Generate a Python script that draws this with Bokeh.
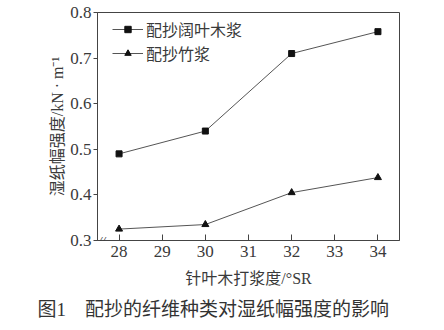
from bokeh.plotting import figure
from bokeh.models import Range1d, FixedTicker, Legend, LegendItem, Label, Title, CustomJSTickFormatter
from bokeh.embed import file_html
from bokeh.resources import INLINE

x_vals = [28, 30, 32, 34]
hardwood = [0.49, 0.54, 0.71, 0.758]
bamboo = [0.325, 0.335, 0.405, 0.438]
series_names = ["配抄阔叶木浆", "配抄竹浆"]
x_ticks = [28, 29, 30, 31, 32, 33, 34]
y_ticks = [0.3, 0.4, 0.5, 0.6, 0.7, 0.8]
x_label = "针叶木打浆度/°SR"
y_label = "湿纸幅强度/kN · m⁻¹"
caption = "图1　配抄的纤维种类对湿纸幅强度的影响"

FONT = "'Liberation Serif', 'Noto Sans CJK SC'"
TXT = "#3a3a3a"
LINE = "#555555"

p = figure(width=444, height=330, output_backend="svg", toolbar_location=None,
           x_range=Range1d(27.5, 34.5), y_range=Range1d(0.3, 0.8),
           min_border_left=97, min_border_right=45, min_border_top=12, min_border_bottom=90)
p.background_fill_color = "white"
p.border_fill_color = "white"
p.grid.visible = False
p.outline_line_color = "#444444"
p.outline_line_width = 1

xa = p.xaxis[0]
xa.ticker = FixedTicker(ticks=x_ticks)
xa.major_tick_in = 6
xa.major_tick_out = 0
xa.minor_tick_line_color = None
xa.major_label_standoff = 5
xa.axis_label = x_label
xa.axis_label_standoff = 10

ya = p.yaxis[0]
ya.ticker = FixedTicker(ticks=y_ticks)
ya.major_tick_in = 0
ya.major_tick_out = 4
ya.minor_tick_line_color = None
ya.major_label_standoff = 2
ya.formatter = CustomJSTickFormatter(code="return tick.toFixed(1);")
ya.axis_label = y_label
ya.axis_label_standoff = 1

for ax in (xa, ya):
    ax.axis_line_color = "#444444"
    ax.major_tick_line_color = "#444444"
    ax.major_label_text_font = FONT
    ax.major_label_text_font_size = "17px"
    ax.major_label_text_color = TXT
    ax.axis_label_text_font = FONT
    ax.axis_label_text_font_size = "16px"
    ax.axis_label_text_font_style = "normal"
    ax.axis_label_text_color = TXT

l1 = p.line(x_vals, hardwood, line_color=LINE, line_width=1)
s1 = p.scatter(x_vals, hardwood, marker="square", size=6, fill_color="#111111", line_color="#111111")
l2 = p.line(x_vals, bamboo, line_color=LINE, line_width=1)
s2 = p.scatter(x_vals, bamboo, marker="triangle", size=7, fill_color="#111111", line_color="#111111")

legend = Legend(items=[LegendItem(label=series_names[0], renderers=[l1, s1]),
                       LegendItem(label=series_names[1], renderers=[l2, s2])],
                location=(15, 175), margin=0, padding=0, spacing=0,
                glyph_width=31, glyph_height=16, label_height=16, label_standoff=3,
                label_text_font=FONT, label_text_font_size="16px", label_text_color=TXT,
                border_line_color=None, background_fill_alpha=0)
p.add_layout(legend, "center")

brk = Label(x=27.6, y=0.3, text="//", text_font=FONT, text_font_size="13px",
            text_color="#333333", text_align="center", text_baseline="middle",
            text_font_style="italic")
p.add_layout(brk)

cap = Title(text=caption, align="left", offset=-60, text_font=FONT, text_font_size="19px",
            text_color="#333333", text_font_style="normal", standoff=14)
p.add_layout(cap, "below")

open("out.html", "w").write(file_html(p, INLINE))
